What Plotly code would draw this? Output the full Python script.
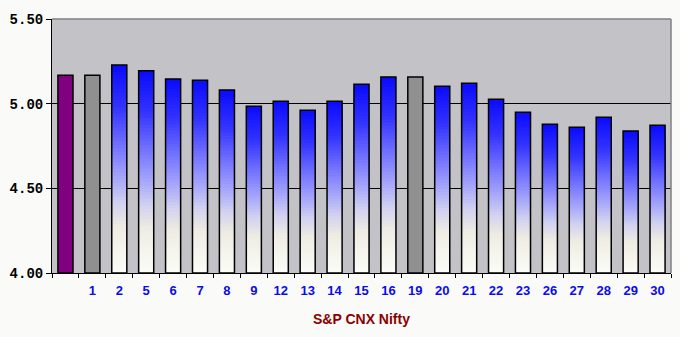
import plotly.graph_objects as go

# ---- data ----
labels = ["", "1", "2", "5", "6", "7", "8", "9", "12", "13", "14", "15", "16",
          "19", "20", "21", "22", "23", "26", "27", "28", "29", "30"]
values = [5.168, 5.168, 5.228, 5.194, 5.145, 5.139, 5.080, 4.985, 5.014, 4.961,
          5.014, 5.115, 5.157, 5.157, 5.103, 5.121, 5.026, 4.949, 4.878, 4.861,
          4.920, 4.838, 4.873]
solid_colors = {0: "#800080", 1: "#909090", 13: "#909090"}
y_base = 4.0
y_ticks = [4.0, 4.5, 5.0, 5.5]
x_title = "S&P CNX Nifty"

# gradient (fraction from top of bar -> colour)
grad = [(0.0, (10, 10, 255)), (0.2, (50, 50, 255)), (0.4, (118, 118, 255)),
        (0.55, (168, 168, 250)), (0.66, (208, 208, 240)), (0.78, (238, 236, 226)),
        (1.0, (252, 252, 248))]


def interp(f):
    for (f0, c0), (f1, c1) in zip(grad[:-1], grad[1:]):
        if f0 <= f <= f1:
            t = (f - f0) / (f1 - f0) if f1 > f0 else 0
            c = [round(a + (b - a) * t) for a, b in zip(c0, c1)]
            return "rgb(%d,%d,%d)" % tuple(c)
    return "rgb(%d,%d,%d)" % grad[-1][1]


xs = list(range(len(labels)))
heights = [v - y_base for v in values]
grad_idx = [i for i in xs if i not in solid_colors]

fig = go.Figure()
K = 60
for k in range(K):
    frac_top = k / K
    fig.add_trace(go.Bar(
        x=[xs[i] for i in grad_idx],
        y=[heights[i] * (1 - frac_top) for i in grad_idx],
        base=y_base, width=0.56,
        marker=dict(color=interp((k + 0.5) / K), line=dict(width=0)),
        hoverinfo="skip", showlegend=False))

sidx = list(solid_colors.keys())
fig.add_trace(go.Bar(
    x=[xs[i] for i in sidx], y=[heights[i] for i in sidx], base=y_base, width=0.56,
    marker=dict(color=[solid_colors[i] for i in sidx], line=dict(width=0)),
    showlegend=False))

# outlines
fig.add_trace(go.Bar(
    x=xs, y=heights, base=y_base, width=0.56,
    marker=dict(color="rgba(0,0,0,0)", line=dict(color="black", width=1.5)),
    showlegend=False))

fig.update_layout(
    width=680, height=337,
    margin=dict(l=52, r=9, t=19, b=64),
    barmode="overlay",
    paper_bgcolor="#FAFBF9",
    plot_bgcolor="#C3C3C7",
    showlegend=False,
    xaxis=dict(
        range=[-0.5, len(labels) - 0.5],
        tickvals=xs, ticktext=labels, ticks="",
        ticklabelstandoff=5,
        tickfont=dict(family="Liberation Sans", size=13, color="#0A0AF0", weight="bold"),
        showline=True, linecolor="black", linewidth=1,
        showgrid=False, zeroline=False,
        minor=dict(tick0=-0.5, dtick=1, ticks="outside", ticklen=4,
                   tickcolor="black", showgrid=False),
    ),
    yaxis=dict(
        range=[y_ticks[0], y_ticks[-1]],
        tickvals=y_ticks, tickformat=".2f",
        ticks="outside", ticklen=5, tickcolor="black",
        tickfont=dict(family="Liberation Mono", size=14, color="black", weight="bold"),
        showline=True, linecolor="black", linewidth=1,
        showgrid=True, gridcolor="black", gridwidth=1,
        zeroline=False,
    ),
    shapes=[
        dict(type="line", xref="paper", yref="paper", x0=0, x1=1, y0=1, y1=1,
             line=dict(color="#808080", width=1.5), layer="above"),
        dict(type="line", xref="paper", yref="paper", x0=1, x1=1, y0=0, y1=1,
             line=dict(color="#808080", width=1.5), layer="above"),
    ],
    annotations=[dict(
        text=x_title, xref="paper", yref="paper", x=0.5, y=-0.18,
        xanchor="center", yanchor="middle", showarrow=False,
        font=dict(family="Liberation Sans Narrow, Liberation Sans", size=14,
                  color="#8B0000", weight="bold"))],
)

fig.write_html("out.html")
